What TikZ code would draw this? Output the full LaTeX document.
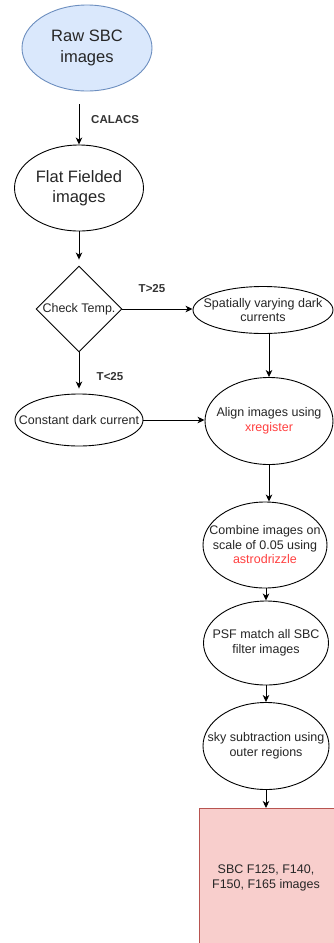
\documentclass[tikz,border=0pt]{standalone}
\usepackage{fontspec}
\setmainfont{Liberation Sans}
\usetikzlibrary{shapes.geometric,arrows.meta}
\definecolor{blueFill}{HTML}{DAE8FC}
\definecolor{blueLine}{HTML}{6C8EBF}
\definecolor{pinkFill}{HTML}{F8CECC}
\definecolor{pinkLine}{HTML}{B85450}
\definecolor{txt}{HTML}{262626}
\definecolor{tool}{HTML}{FF4040}
\tikzset{
  ell/.style={ellipse, draw=black, line width=0.9pt, fill=white, inner sep=0pt},
  tx/.style={align=center, text=txt, inner sep=0pt, font=\fontsize{12.5}{14.5}\selectfont},
  bigtx/.style={tx, font=\fontsize{16.5}{20.5}\selectfont},
  dia/.style={diamond, draw=black, line width=0.9pt, fill=white, inner sep=0pt, aspect=1, minimum size=86pt},
  arr/.style={draw=black, line width=0.9pt, -{Stealth[length=7pt,width=6.5pt,inset=2pt]}},
  lbl/.style={font=\bfseries\fontsize{11.5}{13}\selectfont, text=black!80, inner sep=0pt},
  outbox/.style={rectangle, draw=pinkLine, fill=pinkFill, line width=0.9pt, inner sep=0pt},
}
\begin{document}
\begin{tikzpicture}[x=1pt,y=-1pt]
\useasboundingbox (0,0) rectangle (334,943);
\fill[white] (0,0) rectangle (334,943);
\node[ell, fill=blueFill, draw=blueLine, minimum width=130pt, minimum height=86pt] (raw) at (87,48) {};
\node[bigtx] (rawt) at (raw.center) {Raw SBC\\images};
\node[ell, minimum width=129pt, minimum height=86pt] (flat) at (79,188) {};
\node[bigtx] (flatt) at (flat.center) {Flat Fielded\\images};
\node[dia] (check) at (79,309) {};
\node[tx] (checkt) at (check.center) {Check Temp.};
\node[ell, minimum width=140pt, minimum height=47pt] (spat) at (263,310) {};
\node[tx] (spatt) at (spat.center) {Spatially varying dark\\currents};
\node[ell, minimum width=128pt, minimum height=52pt] (const) at (79,420) {};
\node[tx] (constt) at (const.center) {Constant dark current};
\node[ell, minimum width=128pt, minimum height=87pt] (align) at (269,421) {};
\node[tx] (alignt) at (align.center) {Align images using\\\textcolor{tool}{xregister}};
\node[ell, minimum width=124pt, minimum height=86pt] (comb) at (265,545) {};
\node[tx] (combt) at (comb.center) {Combine images on\\scale of 0.05 using\\\textcolor{tool}{astrodrizzle}};
\node[ell, minimum width=125pt, minimum height=84pt] (psf) at (266,643) {};
\node[tx] (psft) at (psf.center) {PSF match all SBC\\filter images};
\node[ell, minimum width=126pt, minimum height=87pt] (sky) at (266,746) {};
\node[tx] (skyt) at (sky.center) {sky subtraction using\\outer regions};
\node[outbox, anchor=north west, minimum width=136pt, minimum height=145pt] (final) at (199,808) {};
\node[tx] (finalt) at (266,878) {SBC F125, F140,\\F150, F165 images};

\draw[arr, shorten <=13pt] (raw.south -| flat.north) -- (flat.north);
\node[lbl, anchor=west] (calacs) at (91,120) {CALACS};
\draw[arr, shorten >=6pt] (flat.south) -- (check.north);
\draw[arr] (check.east) -- (check.east -| spat.west);
\node[lbl] (tgt) at (152,289) {T>25};
\draw[arr, shorten >=5pt] (check.south) -- (const.north);
\node[lbl] (tlt) at (110,377) {T<25};
\draw[arr] (spat.south -| align.north) -- (align.north);
\draw[arr] (const.east) -- (const.east -| align.west);
\draw[arr] (align.south) -- (align.south |- comb.north);
\draw[arr] (comb.south -| psf.north) -- (psf.north);
\draw[arr] (psf.south) -- (sky.north);
\draw[arr] (sky.south) -- (sky.south |- final.north);
\end{tikzpicture}
\end{document}
